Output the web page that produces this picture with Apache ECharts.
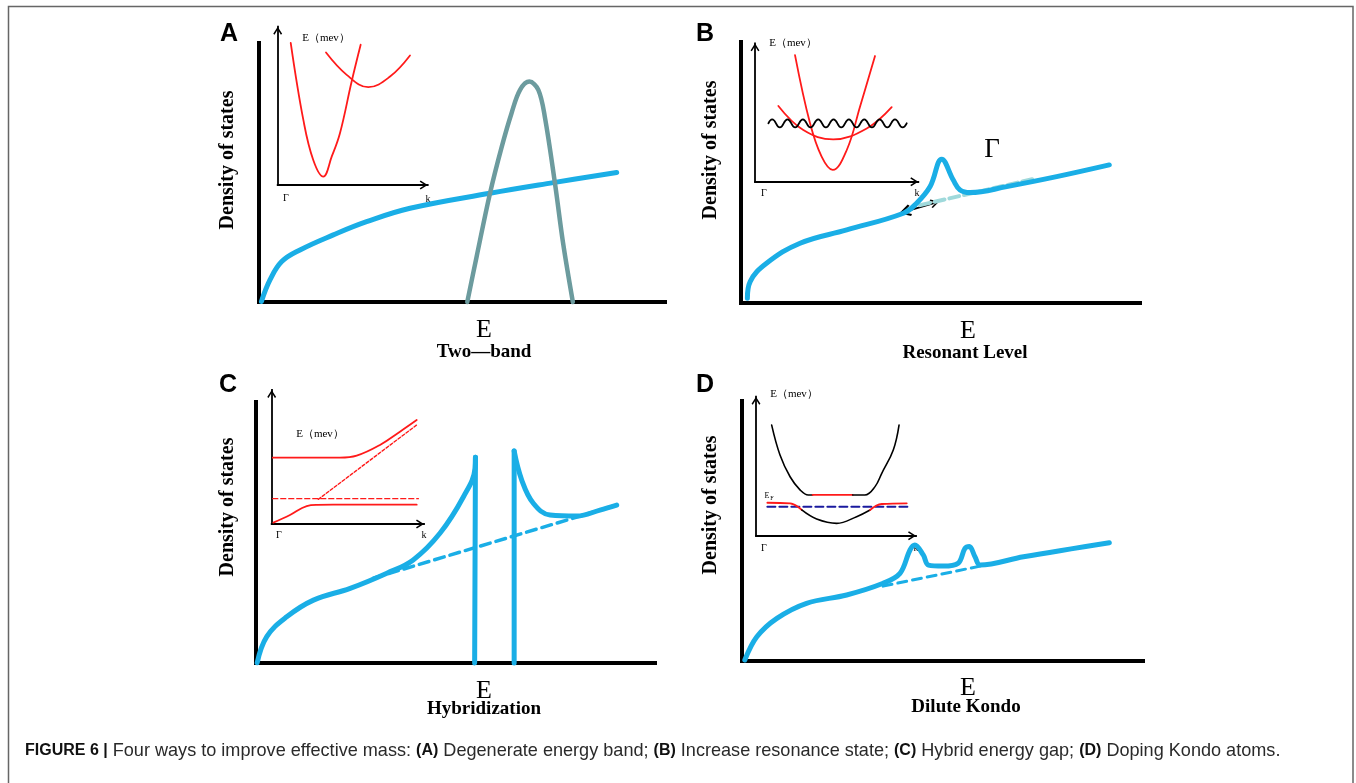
<!DOCTYPE html>
<html>
<head>
<meta charset="utf-8">
<script src="https://cdn.jsdelivr.net/npm/echarts@6/dist/echarts.min.js"></script>
<style>
  html, body { margin: 0; padding: 0; background: #fff; }
  #container { width: 1356px; height: 783px; }
</style>
</head>
<body>
<div id="container"></div>
<script>
var dom = document.getElementById("container");
var myChart = echarts.init(dom, null, { renderer: 'canvas' });

// all curves in a 0..100 frame per panel (x = energy / k, y = DOS / E)

// A: two band
var aDos = [[0.6,0.2],[2.7,8.5],[5.6,15.6],[10.1,20.1],[18.3,25.9],[26.5,31.0],[37.2,36.2],[56.9,42.0],[72.5,46.1],[88.1,50.0]];
var aBand2 = [[51.3,0],[53.6,17.5],[56.9,42.0],[59.8,60.0],[62.2,72.9],[64.3,81.9],[66.6,85.1],[68.8,81.9],[70.4,71.5],[72.9,45.8],[74.9,22.7],[77.3,0]];
var aNarrow = [[8.7,89.7],[17.1,41.1],[23.7,15.8],[30.4,5.3],[36.0,17.9],[41.5,32.7],[49.3,65.4],[55.3,88.6]];
var aWide = [[32.2,83.7],[46.0,69.6],[60.4,61.8],[74.9,68.5],[88.2,81.8]];

// B: resonant level
var bDos = [[1.6,1.8],[2.3,8.2],[6.4,15.2],[14.8,22.9],[26.5,28.0],[40.7,34.4],[44.0,38.2],[47.4,44.6],[50.3,55.1],[53.2,47.1],[54.9,43.3],[57.4,42.3],[66.6,44.6],[79.1,48.4],[92.3,52.9]];
var bBase = [[44.9,37.5],[74.1,47.8]];
var bArrow = [[41.1,35.0],[48.6,38.4]];
var bNarrow = [[24.5,91.5],[33.7,42.2],[40.8,18.1],[47.6,8.5],[56.2,22.9],[64.3,54.2],[73.5,90.8]];
var bWide = [[14.3,54.7],[29.6,37.3],[47.9,30.6],[68.4,38.5],[83.7,53.9]];
var bLevel = [[8.2,42.2],[10.5,45.1],[15.2,39.3],[19.9,45.1],[24.6,39.3],[29.3,45.1],[34.0,39.3],[38.7,45.1],[43.4,39.3],[48.1,45.1],[52.8,39.3],[57.5,45.1],[62.2,39.3],[66.9,45.1],[71.6,39.3],[76.3,45.1],[81.0,39.3],[85.7,45.1],[90.4,39.3],[92.9,42.2]];

// C: hybridization
var cLow = [[0.3,0.1],[2.7,10.1],[7.7,17.7],[14.4,24.1],[23.6,28.6],[32.8,34.4],[39.4,39.5],[46.1,49.7],[52.0,63.7],[54.9,74.6],[55.0,78.8]];
var cGapLeft = [[55.0,78.8],[54.8,0]];
var cGapRight = [[64.7,0],[64.7,81.2]];
var cHigh = [[64.7,81.2],[66.6,70.1],[69.5,61.2],[73.7,56.7],[80.4,56.3],[86.2,58.6],[90.4,60.5]];
var cBase = [[29.4,32.5],[90.4,60.5]];
var cUpper = [[0.7,49.5],[30.0,49.5],[44.8,49.5],[55.8,51.0],[71.1,59.0],[84.2,68.9],[95.2,77.6]];
var cLower = [[1.1,1.0],[12.0,6.7],[23.0,13.4],[30.0,14.3],[40.4,14.4],[95.2,14.4]];
var cFlat = [[0.7,18.9],[96.3,18.9]];
var cFree = [[30.6,18.4],[95.2,73.9]];

// D: dilute Kondo
var dDos = [[0.7,0.4],[3.7,9.3],[8.7,16.4],[16.1,22.2],[26.1,25.4],[35.2,29.9],[39.4,33.7],[41.9,42.7],[43.1,44.6],[45.2,40.8],[46.5,36.9],[50.2,36.5],[53.9,37.6],[55.6,43.3],[56.7,44.0],[58.1,40.1],[59.4,36.9],[70.2,40.1],[91.6,45.5]];
var dBase = [[35.2,28.8],[59.4,36.5]];
var dUpLeft = [[9.8,79.6],[15.0,58.1],[21.3,42.4],[27.5,33.0],[32.7,29.3],[35.4,29.3]];
var dUpMid = [[35.4,29.3],[60.4,29.3]];
var dUpRight = [[60.4,29.3],[68.1,29.3],[74.4,35.3],[78.6,44.9],[85.8,61.7],[89.4,79.6]];
var dLowLeft = [[7.1,23.7],[21.3,23.3],[28.6,18.5]];
var dLowMid = [[28.6,18.5],[37.9,12.0],[50.4,8.9],[62.9,13.7],[71.3,18.5]];
var dLowRight = [[71.3,18.5],[78.6,22.8],[94.2,23.3]];
var dFermi = [[7.1,20.9],[95.2,20.9]];

var BLUE = '#1aaee6';
var RED = '#ff1a1a';
var chev = 'path://M5,0 L10,8 L8.6,9 L5,3.2 L1.4,9 L0,8 Z';

var grids = [
    { left: 259, top: 43, width: 406, height: 259 },
    { left: 741, top: 42, width: 399, height: 261 },
    { left: 256, top: 402, width: 399, height: 261 },
    { left: 742, top: 401, width: 401, height: 260 },
    { left: 277.7, top: 26.7, width: 150, height: 158.3 },
    { left: 755, top: 43.3, width: 163.3, height: 138.4 },
    { left: 271.7, top: 390, width: 152.3, height: 134 },
    { left: 756, top: 396.7, width: 160, height: 139 }
];

function axis(i) {
    var inset = i > 3;
    return {
        type: 'value', gridIndex: i, min: 0, max: 100,
        axisLine: {
            show: true, onZero: false,
            symbol: inset ? ['none', chev] : 'none',
            symbolSize: [11, 8],
            symbolOffset: [0, -4],
            lineStyle: { color: '#000', width: inset ? 1.8 : 4, cap: 'square' }
        },
        axisTick: { show: false },
        axisLabel: { show: false },
        splitLine: { show: false }
    };
}

function curve(data, i, color, width, smooth, dash) {
    return {
        type: 'line', data: data, xAxisIndex: i, yAxisIndex: i,
        symbol: 'none', showSymbol: false, clip: false, silent: true,
        smooth: smooth,
        lineStyle: { color: color, width: width, type: dash || 'solid', cap: 'round', join: 'round' }
    };
}

var xAxes = [], yAxes = [];
for (var i = 0; i < 8; i++) {
    xAxes.push(axis(i));
    yAxes.push(axis(i));
}

var series = [
    // A
    curve(aDos, 0, BLUE, 5, 0.4),
    curve(aBand2, 0, '#6c9b9e', 4.5, 0.35),
    curve(aNarrow, 4, RED, 1.8, 0.4),
    curve(aWide, 4, RED, 1.8, 0.4),
    // B
    curve(bBase, 1, '#9fd9db', 4, false, [10, 5]),
    curve(bDos, 1, BLUE, 5, 0.4),
    {
        type: 'lines', coordinateSystem: 'cartesian2d', xAxisIndex: 1, yAxisIndex: 1,
        symbol: [chev, chev], symbolSize: [12, 9], silent: true,
        lineStyle: { color: '#000', width: 1.8, opacity: 1, curveness: 0 },
        data: [{ coords: bArrow }]
    },
    curve(bNarrow, 5, RED, 1.8, 0.4),
    curve(bWide, 5, RED, 1.8, 0.4),
    curve(bLevel, 5, '#000', 1.8, 0.5),
    // C
    curve(cBase, 2, BLUE, 3.5, false, [10, 6]),
    curve(cLow, 2, BLUE, 5, 0.4),
    curve(cGapLeft, 2, BLUE, 5, false),
    curve(cGapRight, 2, BLUE, 5, false),
    curve(cHigh, 2, BLUE, 5, 0.4),
    curve(cUpper, 6, RED, 1.8, 0.4),
    curve(cLower, 6, RED, 1.8, 0.4),
    curve(cFlat, 6, RED, 1.4, false, [5, 3]),
    curve(cFree, 6, RED, 1.4, false, [3, 2]),
    // D
    curve(dBase, 3, BLUE, 3, false, [9, 6]),
    curve(dDos, 3, BLUE, 5, 0.35),
    curve(dUpLeft, 7, '#000', 1.6, 0.4),
    curve(dUpMid, 7, RED, 1.8, false),
    curve(dUpRight, 7, '#000', 1.6, 0.4),
    curve(dFermi, 7, '#1a1a9e', 2, false, [8, 4]),
    curve(dLowLeft, 7, RED, 1.8, 0.4),
    curve(dLowMid, 7, '#000', 1.6, 0.4),
    curve(dLowRight, 7, RED, 1.8, 0.4)
];

function txt(x, y, text, size, opts) {
    opts = opts || {};
    return {
        type: 'text', x: x, y: y, rotation: opts.rot || 0, silent: true,
        style: {
            text: text,
            fontFamily: opts.family || 'Liberation Serif',
            fontSize: size,
            fontWeight: opts.weight || 'normal',
            fill: opts.color || '#000',
            align: opts.align || 'center',
            verticalAlign: 'middle'
        }
    };
}

var capTokens = {
    b: { fontFamily: 'Liberation Sans', fontSize: 16, fontWeight: 'bold', fill: '#111' },
    n: { fontFamily: 'Liberation Sans', fontSize: 18.1, fill: '#2a2a2a' }
};

var graphics = [
    { type: 'rect', silent: true, shape: { x: 8.5, y: 6.5, width: 1344.5, height: 800 },
      style: { fill: null, stroke: '#666', lineWidth: 1.5 } },
    txt(229, 34, 'A', 25, { family: 'Liberation Sans', weight: 'bold' }),
    txt(705, 34, 'B', 25, { family: 'Liberation Sans', weight: 'bold' }),
    txt(228, 385, 'C', 25, { family: 'Liberation Sans', weight: 'bold' }),
    txt(705, 385, 'D', 25, { family: 'Liberation Sans', weight: 'bold' }),
    txt(228, 160, 'Density of states', 20, { weight: 'bold', rot: Math.PI / 2 }),
    txt(711, 150, 'Density of states', 20, { weight: 'bold', rot: Math.PI / 2 }),
    txt(228, 507, 'Density of states', 20, { weight: 'bold', rot: Math.PI / 2 }),
    txt(711, 505, 'Density of states', 20, { weight: 'bold', rot: Math.PI / 2 }),
    txt(484, 330, 'E', 26),
    txt(968, 331, 'E', 26),
    txt(484, 691, 'E', 26),
    txt(968, 688, 'E', 26),
    txt(484, 352, 'Two\u2014band', 19, { weight: 'bold' }),
    txt(965, 353, 'Resonant Level', 19, { weight: 'bold' }),
    txt(484, 709, 'Hybridization', 19, { weight: 'bold' }),
    txt(966, 707, 'Dilute Kondo', 19, { weight: 'bold' }),
    // inset labels
    txt(326, 38, 'E\uff08mev\uff09', 11),
    txt(286, 198, '\u0393', 10),
    txt(428, 199, 'k', 10),
    txt(793, 43, 'E\uff08mev\uff09', 11),
    txt(764, 193, '\u0393', 10),
    txt(917, 193, 'k', 10),
    txt(992, 150, '\u0393', 27),
    txt(320, 434, 'E\uff08mev\uff09', 11),
    txt(279, 535, '\u0393', 10),
    txt(424, 535, 'k', 10),
    txt(794, 394, 'E\uff08mev\uff09', 11),
    txt(764, 548, '\u0393', 10),
    txt(916, 548, 'k', 10),
    txt(767, 496, 'E', 8),
    txt(772, 498, 'F', 6),
    {
        type: 'text', x: 25, y: 751, silent: true,
        style: {
            text: '{b|FIGURE 6 |}{n| Four ways to improve effective mass: }{b|(A)}{n| Degenerate energy band; }{b|(B)}{n| Increase resonance state; }{b|(C)}{n| Hybrid energy gap; }{b|(D)}{n| Doping Kondo atoms.}',
            rich: capTokens,
            fontFamily: 'Liberation Sans', fontSize: 16,
            align: 'left', verticalAlign: 'middle'
        }
    }
];

var option = {
    backgroundColor: '#fff',
    animation: false,
    grid: grids,
    xAxis: xAxes,
    yAxis: yAxes,
    series: series,
    graphic: graphics
};

if (option && typeof option === 'object') {
    myChart.setOption(option);
}
</script>
</body>
</html>
